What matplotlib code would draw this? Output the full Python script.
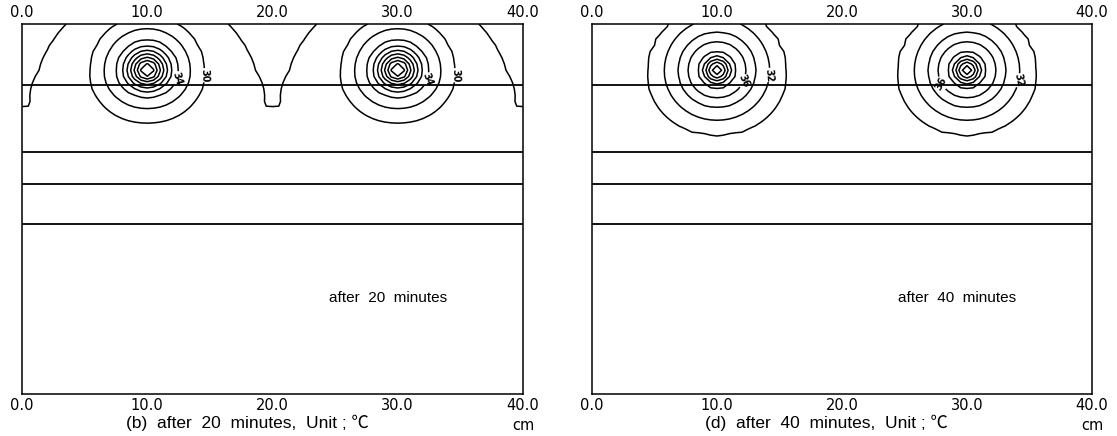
import numpy as np
import matplotlib
matplotlib.use("Agg")
import matplotlib.pyplot as plt

# ---- slab geometry (cm) ----
plate_width = 40.0
plate_depth = 29.6
pipe_x = [10.0, 30.0]
mirror_x = [-30.0, -10.0, 50.0, 70.0]   # image sources for the insulated side edges
pipe_depth = 3.7
layer_depths = [4.9, 10.2, 12.8, 16.0]

x_ticks = [0, 10, 20, 30, 40]
x_tick_labels = ["0.0", "10.0", "20.0", "30.0", "40.0"]

# ---- (b) after 20 minutes ----
radius_b = [0.0, 0.56, 0.8, 1.04, 1.28, 1.6, 1.92, 2.4, 3.36, 4.48, 6.0, 8.0, 10.0, 14.0, 20.0, 40.0]
excess_b = [21.6, 19.6, 17.6, 15.6, 13.6, 11.6, 9.6, 7.6, 5.6, 3.5, 2.0, 1.25, 0.78, 0.4, 0.15, 0.0]
depth_b = [0.0, 3.7, 6.3, 10.0, 15.0, 29.7]
base_b = [26.0, 26.1, 26.35, 26.9, 27.6, 28.2]
stretch_b = 1.15          # heat spreads less downwards into the lower layer
levels_b = [28, 30, 32, 34, 36, 38, 40, 42, 44, 46]
label_levels_b = [30, 34]
label_pos_b = [(12.3, 4.3), (14.5, 4.1), (32.3, 4.4), (34.6, 4.1)]

# ---- (d) after 40 minutes ----
radius_d = [0.0, 0.42, 0.64, 0.88, 1.12, 1.45, 2.3, 3.05, 4.2, 5.3, 7.0, 10.0, 14.0, 20.0, 40.0]
excess_d = [19.4, 17.4, 15.4, 13.4, 11.4, 9.4, 7.4, 5.4, 3.3, 1.3, 0.8, 0.5, 0.25, 0.08, 0.0]
depth_d = [0.0, 3.7, 10.0, 29.7]
base_d = [28.4, 28.45, 28.6, 28.9]
stretch_d = 1.05
levels_d = [30, 32, 34, 36, 38, 40, 42, 44, 46]
label_levels_d = [32, 36]
label_pos_d = [(12.5, 4.7), (14.6, 4.1), (27.7, 4.9), (34.1, 4.5)]

# finite-element style grid: 0.5 cm spacing, rows aligned with the pipe depth
xs = np.arange(0.0, plate_width + 0.01, 0.5)
zs = np.concatenate([[0.0], pipe_depth + 0.5 * np.arange(-7, 53)])
X, Z = np.meshgrid(xs, zs)


def temperature(radius, excess, depth, base, stretch):
    field = np.interp(Z, depth, base)
    dz = (Z - pipe_depth) * np.where(Z > pipe_depth, stretch, 1.0)
    for sx in pipe_x + mirror_x:
        r = np.hypot(X - sx, dz)
        field = field + np.interp(r, radius, excess)
    return field


panels = [
    dict(rect=[22 / 1117, 42 / 436, 501 / 1117, 370 / 436],
         field=temperature(radius_b, excess_b, depth_b, base_b, stretch_b),
         levels=levels_b, label_levels=label_levels_b, label_pos=label_pos_b,
         note="after  20  minutes", caption="(b)  after  20  minutes,  Unit ; \u2103",
         caption_x=247 / 1117),
    dict(rect=[592 / 1117, 42 / 436, 500 / 1117, 370 / 436],
         field=temperature(radius_d, excess_d, depth_d, base_d, stretch_d),
         levels=levels_d, label_levels=label_levels_d, label_pos=label_pos_d,
         note="after  40  minutes", caption="(d)  after  40  minutes,  Unit ; \u2103",
         caption_x=826 / 1117),
]

fig = plt.figure(figsize=(11.17, 4.36), dpi=100)
text_family = ["Liberation Sans", "Noto Sans CJK KR", "DejaVu Sans"]
tick_family = ["DejaVu Sans"]

for p in panels:
    ax = fig.add_axes(p["rect"])
    plain = [v for v in p["levels"] if v not in p["label_levels"]]
    ax.contour(X, Z, p["field"], levels=plain, colors="black", linewidths=1.1)
    cs = ax.contour(X, Z, p["field"], levels=p["label_levels"], colors="black",
                    linewidths=1.1)
    labels = ax.clabel(cs, manual=p["label_pos"], inline=True,
                       inline_spacing=1, fmt="%d", fontsize=7)
    for t in labels:
        t.set_fontweight("bold")

    ax.hlines(layer_depths, 0, plate_width, colors="black", linewidth=1.3)

    ax.set_xlim(0, plate_width)
    ax.set_ylim(plate_depth, 0)
    ax.set_xticks(x_ticks)
    ax.set_xticklabels(x_tick_labels, family=tick_family, fontsize=10.5)
    ax.set_yticks([])
    ax.tick_params(axis="x", length=0, pad=3, top=True, labeltop=True,
                   bottom=True, labelbottom=True)
    for s in ax.spines.values():
        s.set_linewidth(1.1)
        s.set_color("black")

    ax.text(0.73, 0.26, p["note"], transform=ax.transAxes, fontsize=11,
            family=text_family, ha="center", va="center")
    ax.text(1.0, -0.085, "cm", transform=ax.transAxes, fontsize=10.5,
            family=tick_family, ha="center", va="center")

    fig.text(p["caption_x"], 0.03, p["caption"], fontsize=12.5,
             family=text_family, ha="center", va="center")

fig.savefig("out.png", dpi=100)
